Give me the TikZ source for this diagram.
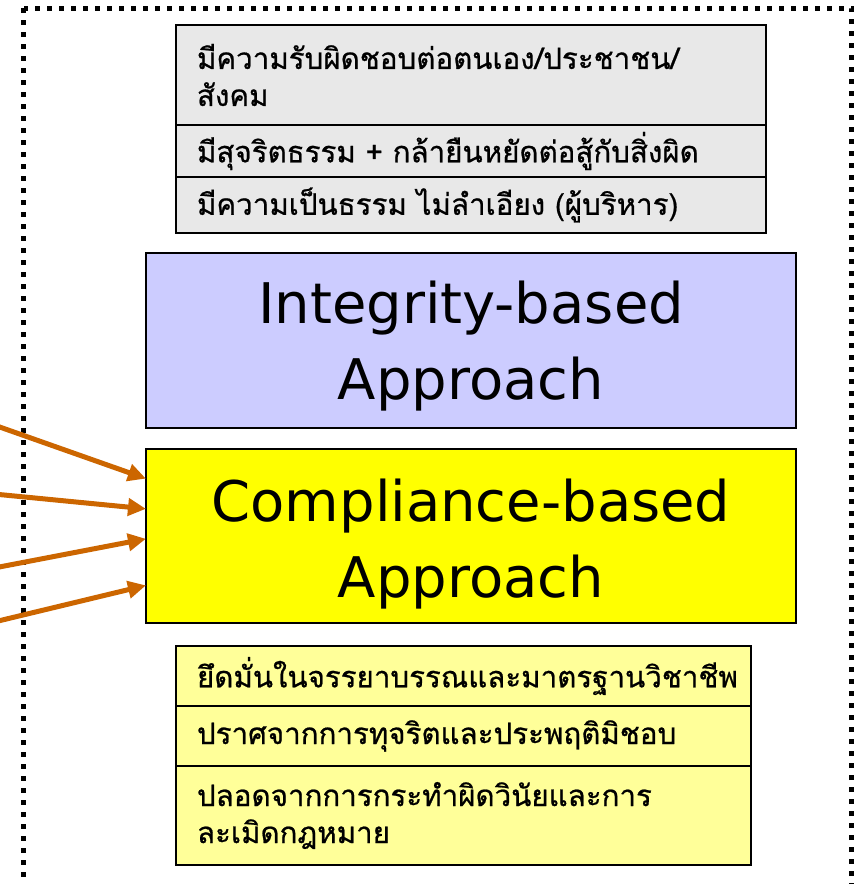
\documentclass[tikz,border=0pt]{standalone}
\usepackage{fontspec}
\setmainfont{DejaVu Sans}
\newfontfamily\thaifont[Script=Thai,FakeBold=0.7]{Loma}
\usetikzlibrary{arrows.meta,calc}
\definecolor{grayfill}{RGB}{232,232,232}
\definecolor{lav}{RGB}{204,204,255}
\definecolor{pureyellow}{RGB}{255,255,0}
\definecolor{lightyellow}{RGB}{255,255,153}
\definecolor{arroworange}{RGB}{204,102,0}
\definecolor{shadowgray}{RGB}{200,200,200}
\tikzset{
  thaibox/.style={draw=black, line width=2pt, anchor=north west, inner xsep=21pt, inner ysep=0pt,
    align=left, font=\thaifont\fontsize{29.5}{37}\selectfont},
  bigbox/.style={draw=black, line width=2pt, anchor=north west, minimum width=650pt},
  bigtext/.style={align=center, inner sep=0pt, font=\fontsize{56}{76}\selectfont},
  shade box/.style={fill=shadowgray, draw=none},
  feed/.style={draw=arroworange, line width=5pt, -{Triangle[length=18pt,width=17pt]}, shorten >=-1pt}
}
\begin{document}
\begin{tikzpicture}[x=1pt,y=-1pt]
\useasboundingbox (0,0) rectangle (854,884);
% dotted frame
\draw[line width=5pt, dash pattern=on 5pt off 7pt] (23.5,8) rectangle (851.5,886);
% shadows
\fill[shade box] (177,26) rectangle (767,234);
\fill[shade box] (147,254) rectangle (797,429);
\fill[shade box] (147,450) rectangle (797,624);
\fill[shade box] (177,647) rectangle (752,866);
% top grey boxes
\node[thaibox, fill=grayfill, minimum width=590pt, minimum height=100pt, text width=548pt] (t1) at (175,24)
  {มีความรับผิดชอบต่อตนเอง/ประชาชน/\\สังคม};
\node[thaibox, fill=grayfill, minimum width=590pt, minimum height=52pt, text width=548pt] (t2) at (175,124)
  {มีสุจริตธรรม + กล้ายืนหยัดต่อสู้กับสิ่งผิด};
\node[thaibox, fill=grayfill, minimum width=590pt, minimum height=56pt, text width=548pt] (t3) at (175,176)
  {มีความเป็นธรรม ไม่ลำเอียง (ผู้บริหาร)};
% big boxes
\node[bigbox, fill=lav, minimum height=175pt] (integ) at (145,252) {};
\node[bigtext] (integt) at ($(integ.center)+(0,6)$) {Integrity-based\\Approach};
\node[bigbox, fill=pureyellow, minimum height=174pt] (comp) at (145,448) {};
\node[bigtext] (compt) at ($(comp.center)+(0,8)$) {Compliance-based\\Approach};
% bottom yellow boxes
\node[thaibox, fill=lightyellow, minimum width=575pt, minimum height=60pt, text width=533pt] (b1) at (175,645)
  {ยึดมั่นในจรรยาบรรณและมาตรฐานวิชาชีพ};
\node[thaibox, fill=lightyellow, minimum width=575pt, minimum height=60pt, text width=533pt] (b2) at (175,705)
  {ปราศจากการทุจริตและประพฤติมิชอบ};
\node[thaibox, fill=lightyellow, minimum width=575pt, minimum height=99pt, text width=533pt] (b3) at (175,765)
  {ปลอดจากการกระทำผิดวินัยและการ\\ละเมิดกฎหมาย};
% arrows
\coordinate (s1) at (-6,425);
\coordinate (s2) at (-6,494);
\coordinate (s3) at (-6,568);
\coordinate (s4) at (-6,622);
\draw[feed] (s1) -- ($(comp.north west)!0.172!(comp.south west)$);
\draw[feed] (s2) -- ($(comp.north west)!0.345!(comp.south west)$);
\draw[feed] (s3) -- ($(comp.north west)!0.517!(comp.south west)$);
\draw[feed] (s4) -- ($(comp.north west)!0.782!(comp.south west)$);
\end{tikzpicture}
\end{document}
